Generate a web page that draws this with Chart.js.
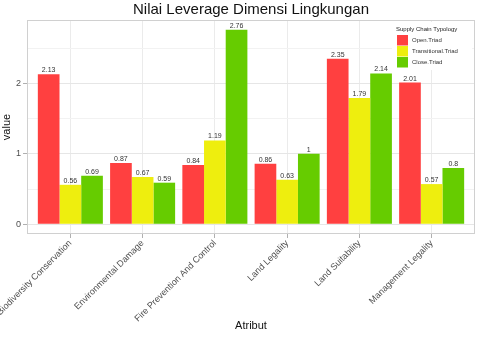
<!DOCTYPE html>
<html>
<head>
<meta charset="utf-8">
<script src="https://cdn.jsdelivr.net/npm/chart.js@4"></script>
<style>
  body { margin: 0; background: #fff; }
  #wrap { width: 480px; height: 338px; }
</style>
</head>
<body>
<div id="wrap"><canvas id="c" width="480" height="338"></canvas></div>
<script>
const categories = [
  "Biodiversity Conservation",
  "Environmental Damage",
  "Fire Prevention And Control",
  "Land Legality",
  "Land Suitability",
  "Management Legality",
];
const seriesNames = ["Open.Triad", "Transitional.Triad", "Close.Triad"];
const openTriad = [2.13, 0.87, 0.84, 0.86, 2.35, 2.01];
const transitionalTriad = [0.56, 0.67, 1.19, 0.63, 1.79, 0.57];
const closeTriad = [0.69, 0.59, 2.76, 1, 2.14, 0.8];
const yTicks = [0, 0.5, 1, 1.5, 2, 2.5];
const colors = ["#FF4040", "#EEEE0E", "#66CC00"];
const title = "Nilai Leverage Dimensi Lingkungan";

const font = "'Liberation Sans', Arial, sans-serif";

const toPoints = (vals) => vals.map((v, i) => ({ x: i + 1, y: v }));

// draws the title, border, bar value labels and the legend inside the panel
const extras = {
  id: "extras",
  afterDatasetsDraw(chart) {
    const { ctx, chartArea: a } = chart;
    ctx.save();
    ctx.font = "7px " + font;
    ctx.fillStyle = "#333";
    ctx.textAlign = "center";
    ctx.textBaseline = "bottom";
    chart.data.datasets.forEach((ds, i) => {
      chart.getDatasetMeta(i).data.forEach((el, j) => {
        ctx.fillText(String(ds.data[j].y), el.x, el.y - 0.5);
      });
    });

    ctx.strokeStyle = "#D0D0D0";
    ctx.lineWidth = 1;
    ctx.strokeRect(a.left + 0.5, a.top + 0.5, a.right - a.left - 1, a.bottom - a.top - 1);

    // title, centred on the panel like ggplot does
    ctx.font = "15px " + font;
    ctx.fillStyle = "#111";
    ctx.textBaseline = "middle";
    ctx.fillText(title, (a.left + a.right) / 2, 10);

    // legend
    const lx = 392, ly = 22;
    ctx.fillStyle = "#fff";
    ctx.fillRect(lx, ly, 80, 48);
    ctx.textAlign = "left";
    ctx.fillStyle = "#222";
    ctx.font = "6px " + font;
    ctx.fillText("Supply Chain Typology", lx + 4, ly + 7);
    seriesNames.forEach((name, i) => {
      const y = ly + 13 + i * 11;
      ctx.fillStyle = colors[i];
      ctx.fillRect(lx + 5, y, 11, 10.5);
      ctx.fillStyle = "#333";
      ctx.fillText(name, lx + 20, y + 5.5);
    });
    ctx.restore();
  },
};

new Chart(document.getElementById("c"), {
  type: "bar",
  data: {
    datasets: [
      { label: seriesNames[0], data: toPoints(openTriad), backgroundColor: colors[0] },
      { label: seriesNames[1], data: toPoints(transitionalTriad), backgroundColor: colors[1] },
      { label: seriesNames[2], data: toPoints(closeTriad), backgroundColor: colors[2] },
    ],
  },
  options: {
    responsive: false,
    animation: false,
    devicePixelRatio: 1,
    categoryPercentage: 0.9,
    barPercentage: 1,
    layout: { padding: { left: 0, right: 5, top: 20, bottom: 0 } },
    plugins: {
      legend: { display: false },
      tooltip: { enabled: false },
      title: { display: false },
    },
    scales: {
      x: {
        type: "linear",
        offset: false,
        min: 0.4,
        max: 6.6,
        afterBuildTicks(scale) {
          scale.ticks = categories.map((c, i) => ({ value: i + 1 }));
        },
        afterFit(scale) {
          scale.height = 104;
          scale.paddingLeft = 0;
          scale.paddingRight = 0;
        },
        ticks: {
          autoSkip: false,
          minRotation: 45,
          maxRotation: 45,
          padding: 0,
          color: "#4D4D4D",
          font: { family: font, size: 9 },
          callback: (v) => categories[v - 1],
        },
        grid: { offset: false, color: "#EBEBEB", tickColor: "#B0B0B0", tickLength: 4 },
        border: { display: false },
        title: {
          display: true,
          text: "Atribut",
          color: "#111",
          font: { family: font, size: 11 },
          padding: { top: 0, bottom: 5 },
        },
      },
      y: {
        min: -0.138,
        max: 2.898,
        afterBuildTicks(scale) {
          scale.ticks = yTicks.map((v) => ({ value: v }));
        },
        afterFit(scale) {
          scale.width = 27;
        },
        ticks: {
          padding: 2,
          color: "#4D4D4D",
          font: { family: font, size: 9 },
          callback: (v) => (Number.isInteger(v) ? v : ""),
        },
        grid: {
          color: (c) => (Number.isInteger(c.tick.value) ? "#E6E6E6" : "#F2F2F2"),
          tickColor: (c) => (Number.isInteger(c.tick.value) ? "#B0B0B0" : "rgba(0,0,0,0)"),
          tickLength: 4,
        },
        border: { display: false },
        title: {
          display: true,
          text: "value",
          color: "#111",
          font: { family: font, size: 11 },
          padding: 0,
        },
      },
    },
  },
  plugins: [extras],
});
</script>
</body>
</html>
